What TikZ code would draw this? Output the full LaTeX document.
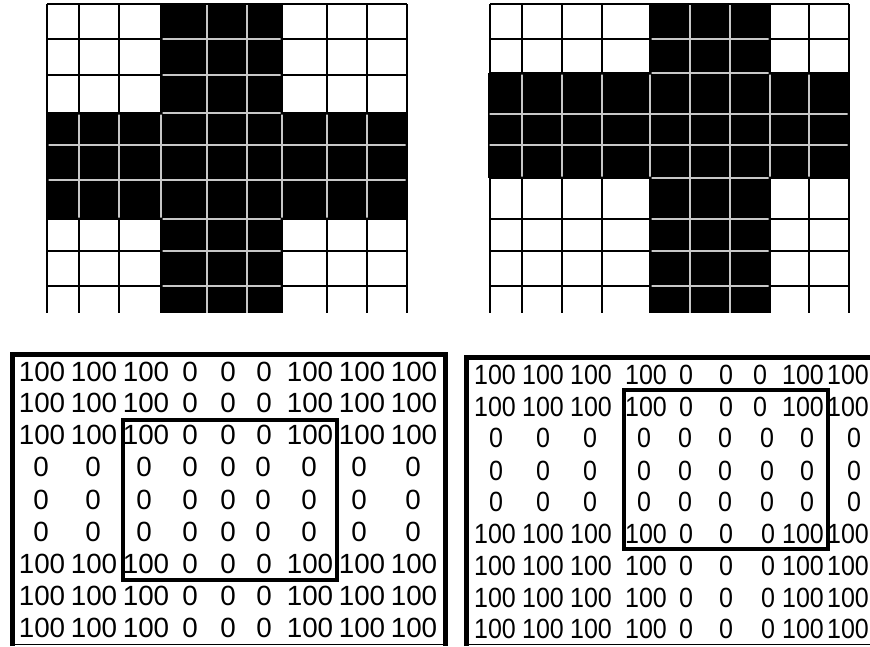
\documentclass[tikz,border=0pt]{standalone}
\usepackage{fontspec}
\usepackage{graphicx}
\setmainfont{Liberation Sans}
\begin{document}
\begin{tikzpicture}[x=1pt,y=-1pt,
  gridline/.style={line width=1.3pt,black},
  softline/.style={line width=1.3pt,color=black!22},
  num/.style={inner sep=0pt,anchor=base,font=\fontsize{27.8}{28}\selectfont},
  thickframe/.style={line width=5pt},
  innerframe/.style={line width=4pt},
  thinframe/.style={line width=1pt}]
\useasboundingbox (0,0) rectangle (870,646);
\fill[white] (0,0) rectangle (870,646);
\clip (0,0) rectangle (870,646);

% ---------- top-left cross ----------
\foreach \x in {47,79,119,161,207,247,282,327,367,407}
  \draw[gridline] (\x,4) -- (\x,313);
\foreach \y in {4,39,75,113,145,180,219,251,286}
  \draw[gridline] (47,\y) -- (407,\y);
\fill[black] (47,113) rectangle (407,219);
\fill[black] (161,4) rectangle (282,313);
\begin{scope}
  \clip (48.5,114.5) rectangle (405.5,217.5) (162.5,5) rectangle (280.5,313);
  \foreach \x in {79,119,161,207,247,282,327,367}
    \draw[softline] (\x,4) -- (\x,313);
  \foreach \y in {39,75,113,145,180,219,251,286}
    \draw[softline] (47,\y) -- (407,\y);
\end{scope}

% ---------- top-right cross ----------
\foreach \x in {490,522,562,602,650,690,730,770,809,849}
  \draw[gridline] (\x,4) -- (\x,313);
\foreach \y in {4,39,73,114,145,178,219,251,286}
  \draw[gridline] (490,\y) -- (849,\y);
\fill[black] (488,73) rectangle (849,178);
\fill[black] (650,4) rectangle (770,313);
\begin{scope}
  \clip (489.5,74.5) rectangle (847.5,176.5) (651.5,5) rectangle (768.5,313);
  \foreach \x in {522,562,602,650,690,730,770,809}
    \draw[softline] (\x,4) -- (\x,313);
  \foreach \y in {39,73,114,145,178,219,251,286}
    \draw[softline] (488,\y) -- (849,\y);
\end{scope}

% ---------- bottom-left matrix ----------
\draw[thickframe] (12.5,646) -- (12.5,354.5) -- (445.5,354.5) -- (445.5,646);
\draw[thinframe] (12.5,644.5) -- (445.5,644.5);
\foreach \r/\y in {1/372,2/403,3/435,7/564,8/596,9/628}
  \foreach[count=\c] \x/\v in {42/100,94/100,146/100,190/0,228/0,264/0,310/100,362/100,414/100}
    \node[num] (bl-\r-\c) at (\x,\y+9.9) {\v};
\foreach \r/\y in {4/467,5/500,6/532}
  \foreach[count=\c] \x/\v in {41/0,93/0,144/0,190/0,228/0,263/0,309/0,359/0,413/0}
    \node[num] (bl-\r-\c) at (\x,\y+9.9) {\v};
\draw[innerframe] (123,420) rectangle (337,580);

% ---------- bottom-right matrix ----------
\draw[thickframe] (466.5,646) -- (466.5,357) -- (870,357);
\draw[thinframe] (466.5,644.5) -- (870,644.5);
\foreach \r/\y in {1/375,2/407}
  \foreach[count=\c] \x/\v in {495/100,543/100,591/100,646/100,686/0,726/0,760/0,803/100,848/100}
    \node[num] (br-\r-\c) at (\x,\y+9.9) {\scalebox{0.9}[1]{\v}};
\foreach \r/\y in {3/438,4/471,5/502}
  \foreach[count=\c] \x/\v in {496/0,543/0,590/0,644/0,685/0,725/0,767/0,807/0,854/0}
    \node[num] (br-\r-\c) at (\x,\y+9.9) {\scalebox{0.9}[1]{\v}};
\foreach \r/\y in {6/534,7/566,8/598,9/629}
  \foreach[count=\c] \x/\v in {495/100,543/100,591/100,646/100,686/0,726/0,768/0,803/100,848/100}
    \node[num] (br-\r-\c) at (\x,\y+9.9) {\scalebox{0.9}[1]{\v}};
\draw[innerframe] (624,390) rectangle (828,549);
\end{tikzpicture}
\end{document}
